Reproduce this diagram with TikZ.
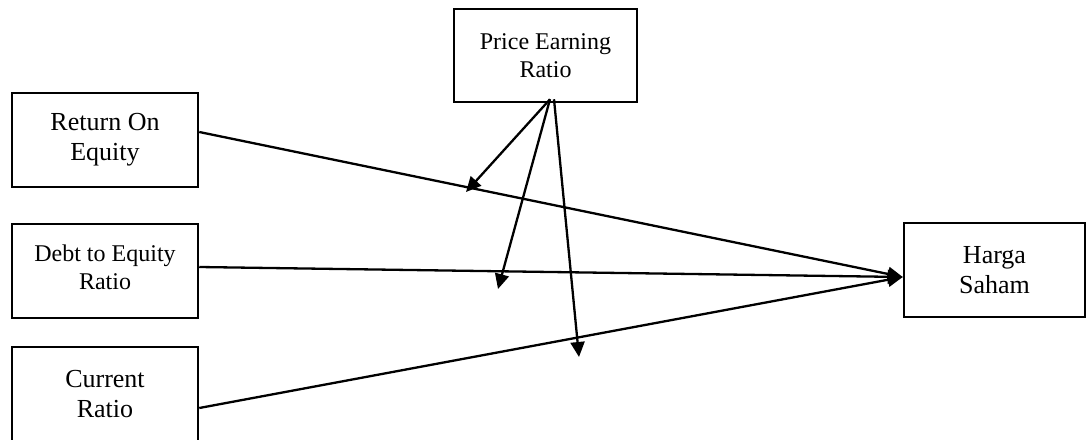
\documentclass[tikz,border=0pt]{standalone}
\usepackage{fontspec}
\setmainfont{Liberation Serif}
\usetikzlibrary{arrows.meta}
\begin{document}
\begin{tikzpicture}[x=1pt,y=-1pt,
  box/.style={draw, line width=2.5pt, minimum width=186pt, minimum height=94pt,
    inner sep=0pt, align=center, font=\fontsize{26}{30}\selectfont},
  smallbox/.style={box, font=\fontsize{24}{28}\selectfont},
  link/.style={line width=2.3pt, -{Triangle[length=15pt,width=14pt]}}]
\useasboundingbox (0,0) rectangle (1086,439);

\node[box] (roe) at (105,140) {Return On\\Equity};
\node[smallbox, text depth=8pt] (der) at (105,271) {Debt to Equity\\Ratio};
\node[box] (cr) at (105,394) {Current\\Ratio};
\node[smallbox, minimum width=183pt, minimum height=93pt] (per) at (545.5,55.5) {Price Earning\\Ratio};
\node[box, minimum width=181pt] (hs) at (994.5,270) {Harga\\Saham};

\coordinate (t1) at (466,192);
\coordinate (t2) at (498,289);
\coordinate (t3) at (579,357);

\draw[link] ([yshift=8pt]roe.east) -- ([yshift=-7pt]hs.west);
\draw[link] ([yshift=4pt]der.east) -- ([yshift=-7pt]hs.west);
\draw[link] ([yshift=-14pt]cr.east) -- ([yshift=-7pt]hs.west);

\draw[link] ([xshift=4.5pt,yshift=4pt]per.south) -- (t1);
\draw[link] ([xshift=4.5pt,yshift=4pt]per.south) -- (t2);
\draw[link] ([xshift=8.5pt,yshift=4pt]per.south) -- (t3);
\end{tikzpicture}
\end{document}
